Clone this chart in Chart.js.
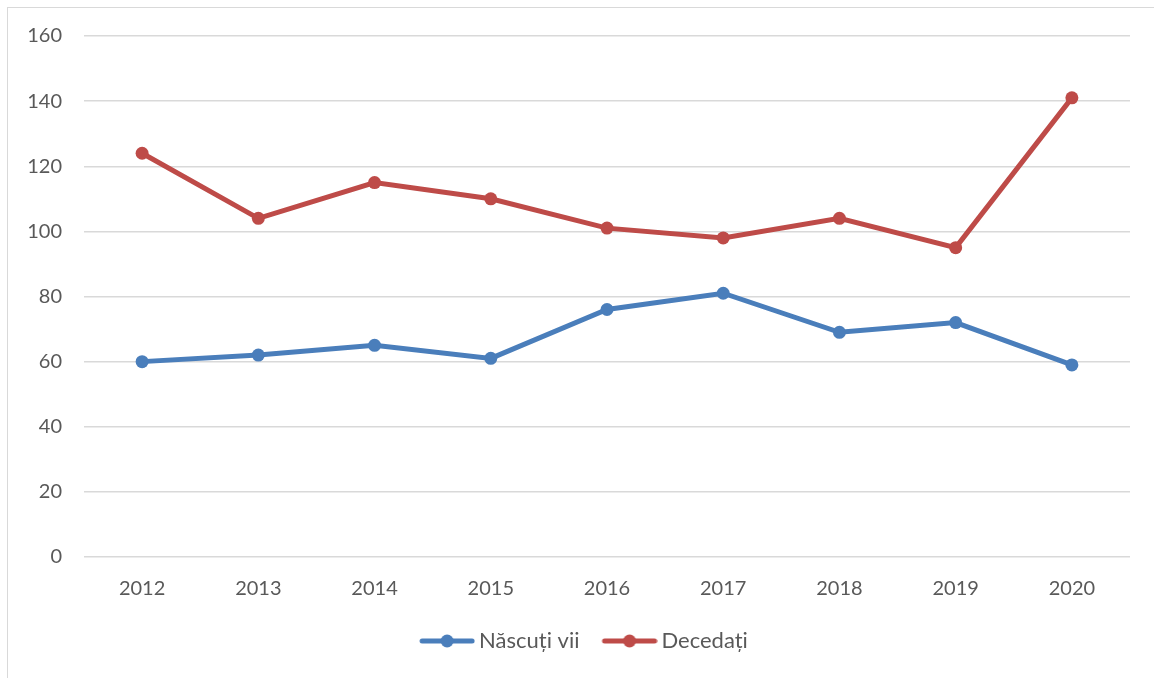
<!DOCTYPE html>
<html>
<head>
<meta charset="utf-8">
<script src="https://cdn.jsdelivr.net/npm/chart.js@4/dist/chart.umd.min.js"></script>
<style>
html,body{margin:0;padding:0;background:#fff;overflow:hidden;}
#wrap{position:relative;width:1154px;height:678px;}
#frame{position:absolute;left:7px;top:7px;width:1200px;height:700px;border:1px solid #d9d9d9;box-sizing:border-box;}
canvas{position:absolute;left:0;top:0;}
</style>
</head>
<body>
<div id="wrap"><div id="frame"></div><canvas id="c" width="1154" height="678"></canvas></div>
<script>
const years = ['2012','2013','2014','2015','2016','2017','2018','2019','2020'];
const nascutiVii = [60, 62, 65, 61, 76, 81, 69, 72, 59];
const decedati = [124, 104, 115, 110, 101, 98, 104, 95, 141];
const yTicks = [0, 20, 40, 60, 80, 100, 120, 140, 160];
const seriesNames = ['Născuți vii', 'Decedați'];
const seriesColors = ['#4a7ebb', '#be4b48'];

// legend icon: transparent left pad, then line with centred dot
const ICON_PAD = 20, ICON_LINE = 56, ICON_OVER = 7;
function legendIcon(color){
  const c = document.createElement('canvas');
  c.width = ICON_PAD + ICON_LINE; c.height = 16;
  const g = c.getContext('2d');
  g.strokeStyle = color; g.lineWidth = 5; g.lineCap = 'round';
  g.beginPath(); g.moveTo(ICON_PAD + 3, 8); g.lineTo(ICON_PAD + ICON_LINE - 3, 8); g.stroke();
  g.fillStyle = color; g.beginPath(); g.arc(ICON_PAD + ICON_LINE/2, 8, 6.5, 0, Math.PI*2); g.fill();
  return c;
}

const FONT = 'Lato, "Open Sans", sans-serif';
new Chart(document.getElementById('c'), {
  type: 'line',
  data: {
    labels: years,
    datasets: [
      {label: seriesNames[0], data: nascutiVii, borderColor: seriesColors[0], backgroundColor: seriesColors[0],
       borderWidth: 5, pointRadius: 6.5, pointHoverRadius: 6.5, pointBorderWidth: 0, tension: 0, pointStyle: 'circle'},
      {label: seriesNames[1], data: decedati, borderColor: seriesColors[1], backgroundColor: seriesColors[1],
       borderWidth: 5, pointRadius: 6.5, pointHoverRadius: 6.5, pointBorderWidth: 0, tension: 0, pointStyle: 'circle'}
    ]
  },
  options: {
    responsive: false,
    animation: false,
    layout: {padding: {left: 0, right: 0, top: 36, bottom: 16}},
    plugins: {
      tooltip: {enabled: false},
      legend: {
        position: 'bottom',
        labels: {
          font: {family: FONT, size: 22},
          color: '#595959',
          usePointStyle: true,
          pointStyleWidth: ICON_PAD + ICON_LINE - 2*ICON_OVER,
          boxHeight: 16,
          padding: 9,
          generateLabels: (chart) => seriesNames.map((n, i) => ({
            text: n, fillStyle: seriesColors[i], strokeStyle: seriesColors[i], lineWidth: 0,
            pointStyle: legendIcon(seriesColors[i]), datasetIndex: i, hidden: false, fontColor: '#595959'
          }))
        }
      }
    },
    scales: {
      x: {
        offset: true,
        grid: {display: false, drawTicks: false},
        border: {display: false},
        ticks: {font: {family: FONT, size: 20}, color: '#595959', padding: 20, maxRotation: 0}
      },
      y: {
        min: 0, max: 160,
        afterBuildTicks: (s) => { s.ticks = yTicks.map(v => ({value: v})); },
        afterFit: (s) => { s.width = 84; },
        grid: {color: '#d9d9d9', lineWidth: 1.5, drawTicks: false},
        border: {display: false},
        ticks: {font: {family: FONT, size: 20}, color: '#595959', padding: 22}
      },
      yRight: {
        position: 'right',
        min: 0, max: 160,
        afterFit: (s) => { s.width = 24; },
        grid: {display: false, drawTicks: false},
        border: {display: false},
        ticks: {display: false}
      }
    }
  }
});
</script>
</body>
</html>
